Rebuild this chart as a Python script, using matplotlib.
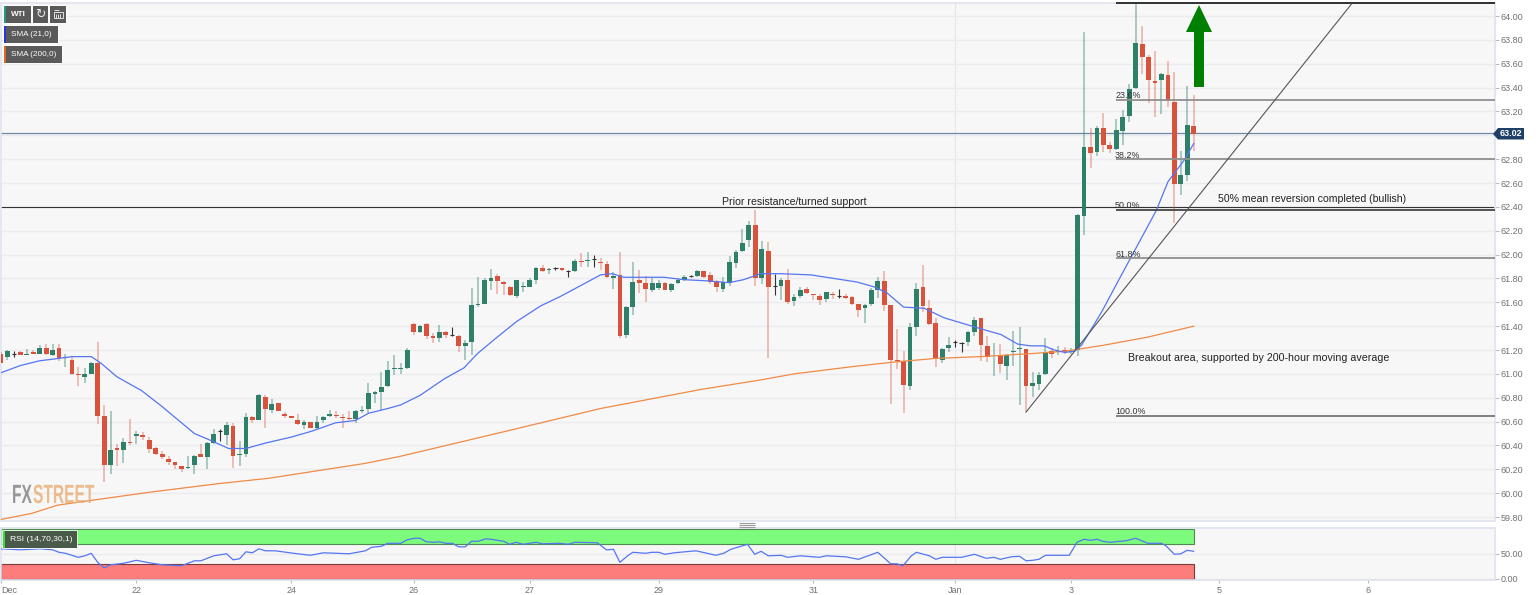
import numpy as np
import matplotlib
matplotlib.use('Agg')
import matplotlib.pyplot as plt
import matplotlib.patheffects as pe
from matplotlib.patches import Rectangle, Polygon
from matplotlib.transforms import Affine2D

plt.rcParams['font.family'] = ['Liberation Sans', 'DejaVu Sans']

opens = [61.17,61.145,61.17,61.18,61.16,61.18,61.17,61.22,61.16,61.22,
         61.13,61.12,61.00,60.97,61.00,61.09,60.65,60.24,60.38,60.36,
         60.43,60.48,60.49,60.45,60.38,60.33,60.29,60.26,60.23,60.21,
         60.24,60.33,60.30,60.42,60.52,60.49,60.56,60.32,60.33,60.64,
         60.61,60.81,60.70,60.76,60.66,60.65,60.61,60.57,60.60,60.55,
         60.61,60.65,60.655,60.64,60.63,60.62,60.69,60.71,60.83,60.85,
         60.90,61.04,61.04,61.05,61.42,61.35,61.42,61.32,61.30,61.35,
         61.33,61.32,61.23,61.27,61.58,61.59,61.78,61.82,61.77,61.73,
         61.65,61.73,61.73,61.79,61.89,61.87,61.885,61.885,61.86,61.86,
         61.95,61.945,61.96,61.94,61.92,61.80,61.83,61.33,61.56,61.79,
         61.76,61.70,61.72,61.765,61.70,61.76,61.785,61.82,61.82,61.86,
         61.83,61.77,61.715,61.765,61.93,62.03,62.12,62.245,61.80,62.03,
         61.74,61.74,61.79,61.615,61.65,61.71,61.67,61.65,61.625,61.67,
         61.655,61.655,61.645,61.59,61.55,61.585,61.70,61.78,61.575,61.12,
         61.105,60.90,61.395,61.725,61.55,61.43,61.117,61.22,61.265,61.26,
         61.268,61.355,61.465,61.23,61.155,61.16,61.07,61.18,61.205,61.205,
         60.895,60.915,60.997,61.19,61.185,61.204,61.185,61.20,62.327,62.90,
         62.857,63.06,62.916,62.885,63.036,63.165,63.394,63.765,63.656,63.455,
         63.464,63.505,63.282,62.595,62.665,63.075]
closes = [61.09,61.19,61.17,61.16,61.17,61.17,61.22,61.17,61.20,61.13,
          61.14,61.00,60.99,61.00,61.09,60.65,60.24,60.36,60.36,60.43,
          60.42,60.50,60.47,60.37,60.33,60.30,60.26,60.24,60.20,60.22,
          60.31,60.30,60.42,60.50,60.52,60.57,60.31,60.33,60.64,60.61,
          60.82,60.71,60.75,60.69,60.65,60.63,60.58,60.60,60.55,60.60,
          60.64,60.66,60.645,60.63,60.62,60.69,60.70,60.84,60.85,60.89,
          61.03,61.05,61.05,61.20,61.35,61.40,61.32,61.30,61.35,61.33,
          61.33,61.23,61.26,61.575,61.59,61.785,61.80,61.78,61.75,61.66,
          61.79,61.74,61.79,61.89,61.86,61.88,61.885,61.87,61.86,61.95,
          61.94,61.955,61.96,61.93,61.81,61.82,61.32,61.56,61.77,61.76,
          61.715,61.765,61.765,61.70,61.75,61.785,61.81,61.82,61.865,61.81,
          61.77,61.73,61.77,61.935,62.025,62.10,62.245,61.80,62.045,61.73,
          61.74,61.785,61.605,61.645,61.70,61.68,61.66,61.62,61.685,61.66,
          61.655,61.64,61.585,61.535,61.58,61.70,61.775,61.58,61.12,61.11,
          60.91,61.395,61.715,61.57,61.42,61.125,61.21,61.245,61.265,61.26,
          61.35,61.45,61.24,61.14,61.16,61.085,61.16,61.19,61.215,60.895,
          60.92,60.99,61.185,61.17,61.19,61.185,61.195,62.33,62.905,62.855,
          63.064,62.916,62.885,63.045,63.156,63.385,63.776,63.654,63.464,63.436,
          63.517,63.288,62.589,62.665,63.084,63.011]
highs = [61.18,61.20,61.19,61.19,61.21,61.20,61.245,61.25,61.25,61.25,
         61.17,61.15,61.06,61.05,61.10,61.27,60.74,60.69,60.41,60.46,
         60.62,60.52,60.51,60.47,60.39,60.35,60.31,60.26,60.23,60.31,
         60.32,60.41,60.43,60.54,60.54,60.60,60.59,60.44,60.67,60.65,
         60.83,60.82,60.79,60.76,60.68,60.65,60.66,60.61,60.60,60.65,
         60.65,60.70,60.69,60.66,60.69,60.70,60.73,60.92,60.86,61.02,
         61.11,61.16,61.09,61.22,61.43,61.41,61.43,61.34,61.41,61.36,
         61.39,61.33,61.28,61.72,61.81,61.80,61.88,61.84,61.78,61.74,
         61.79,61.77,61.80,61.90,61.91,61.89,61.90,61.89,61.87,61.96,
         62.01,62.02,62.00,61.97,61.95,61.85,62.02,61.57,61.94,61.87,
         61.82,61.80,61.79,61.77,61.76,61.80,61.83,61.83,61.87,61.865,
         61.85,61.79,61.81,61.99,62.04,62.215,62.285,62.37,62.11,62.105,
         61.84,61.80,61.88,61.67,61.73,61.73,61.67,61.67,61.69,61.69,
         61.71,61.67,61.65,61.59,61.59,61.72,61.81,61.865,61.58,61.375,
         61.195,61.43,61.765,61.91,61.62,61.465,61.218,61.31,61.28,61.27,
         61.36,61.48,61.47,61.315,61.26,61.25,61.17,61.36,61.39,61.21,
         61.02,61.02,61.30,61.218,61.235,61.225,61.215,62.34,63.863,63.06,
         63.078,63.184,62.947,63.134,63.212,63.43,64.10,63.916,63.673,63.707,
         63.52,63.623,63.533,62.87,63.413,63.335]
lows = [61.09,61.12,61.14,61.16,61.16,61.17,61.17,61.16,61.15,61.11,
        61.06,60.99,60.90,60.92,61.00,60.58,60.09,60.16,60.23,60.25,
        60.40,60.41,60.45,60.34,60.32,60.29,60.24,60.20,60.18,60.20,
        60.16,60.30,60.20,60.41,60.44,60.40,60.21,60.23,60.30,60.59,
        60.61,60.55,60.67,60.69,60.63,60.63,60.57,60.54,60.55,60.54,
        60.59,60.64,60.63,60.55,60.61,60.59,60.67,60.67,60.76,60.70,
        60.89,60.99,61.00,61.04,61.33,61.34,61.29,61.26,61.27,61.30,
        61.32,61.18,61.12,61.16,61.56,61.59,61.70,61.67,61.66,61.65,
        61.64,61.69,61.73,61.75,61.85,61.84,61.87,61.86,61.81,61.85,
        61.90,61.90,61.90,61.87,61.80,61.71,61.30,61.30,61.49,61.68,
        61.60,61.69,61.70,61.70,61.69,61.75,61.78,61.815,61.81,61.80,
        61.75,61.69,61.69,61.74,61.89,62.025,62.06,61.74,61.755,61.13,
        61.66,61.62,61.59,61.57,61.64,61.67,61.62,61.575,61.60,61.625,
        61.64,61.625,61.58,61.48,61.43,61.57,61.64,61.525,60.745,61.045,
        60.67,60.865,61.32,61.52,61.41,61.055,61.09,61.18,61.225,61.18,
        61.235,61.32,61.11,61.10,60.98,61.01,60.95,61.07,60.74,60.68,
        60.81,60.865,60.99,61.13,61.155,61.17,61.167,61.15,62.165,62.73,
        62.827,62.863,62.855,62.877,62.916,63.115,63.39,63.514,63.274,63.15,
        63.179,63.235,62.268,62.50,62.617,62.87]

sma21_x = [0,3,6,9,11,14,15.5,18,21.8,24.9,28,30,32.2,35.3,38,41,45,48.2,51.9,55,57,60,62,65,68.8,71.8,73.9,77,80,
           83.7,86.8,89.9,93,94.8,96.6,99.2,102.8,105.9,109.5,112.9,115.2,117.8,120.9,125.6,129.2,132.8,135.4,137.4,
           140,143.2,146.3,149.4,152.5,155.1,157.7,159.7,161.8,163.4,165,166.5,167.6,170.7,173.7,176.8,179.2,181,183.5,185]
sma21_y = [61.01,61.07,61.11,61.13,61.145,61.145,61.09,60.975,60.86,60.73,60.59,60.50,60.45,60.375,60.375,60.42,60.47,
           60.52,60.59,60.61,60.67,60.71,60.74,60.82,60.96,61.05,61.17,61.31,61.44,61.57,61.65,61.74,61.83,61.84,61.81,
           61.81,61.81,61.79,61.78,61.765,61.79,61.84,61.84,61.83,61.80,61.77,61.73,61.68,61.56,61.55,61.47,61.42,61.37,
           61.33,61.25,61.235,61.235,61.20,61.18,61.19,61.24,61.517,61.82,62.13,62.37,62.61,62.79,62.93]
sma200_x = [0,4.7,8.8,14,23.3,33.7,41.5,49.3,56.5,62,77.6,93,108.6,117.9,123,131.9,138.6,145,152,159.7,165,171,178,185]
sma200_y = [59.78,59.83,59.90,59.94,60.01,60.08,60.125,60.19,60.25,60.31,60.51,60.71,60.87,60.95,61.00,61.06,61.10,61.13,
            61.145,61.17,61.19,61.24,61.31,61.40]

rsi_x = [0,3,6,8,9,10,12,13,14,15,16,17,19,21,23,25,28,30,31,33,35,36,37,38,39,40,41,42.5,46,48,50,54,56.5,57.5,59,60,62,
         63,64.1,65,66,67.2,68,69,70,71,72,73,74,75.2,76,78,78.9,79.9,81,83,84,86.6,88,89,92.5,93.9,95,96,97.2,98,100,
         100.9,102,103,104.4,107.8,110.9,112.1,113.2,115.8,116.9,117.9,119,121,122,124,126.9,128,131,133,136,138,139,
         139.9,141.2,142,144,145,146,149,151,152.8,154,155,156.7,158,159,160,161,162,165.7,166.9,168,169,170,170.9,172,
         174.5,176,177.9,180,180.7,182,183,184,185]
rsi_y = [60,58,60,58,53,51,43,46,51,33,22,28,31,37,32,28,26,36,36,46,50,38,40,54,52,60,56,56,50,47,52,50,56,63,65,71,71,
         78,81,81,74,73,74,71,71,64,64,75,75,80,79,75,69,73,69,73,70,71,69,73,72,58,59,33,46,53,51,53,53,49,52,56,47,51,
         59,69,49,55,46,47,43,46,43,46,44,39,53,30,30,26,46,53,46,39,43,43,49,41,43,39,44,45,36,37,39,47,47,73,79,77,79,
         75,73,76,81,71,71,66,49,50,57,55]

price_ticks = np.arange(59.8, 64.01, 0.2)
date_pos = [0, 21, 45, 64, 82, 102, 126, 148, 166, 189, 212]
date_labels = ['Dec', '22', '24', '26', '27', '29', '31', 'Jan', '3', '5', '6']
fib_levels = [64.105, 63.30, 62.80, 62.375, 61.97, 60.65]
fib_labels = ['', '23.6%', '38.2%', '50.0%', '61.8%', '100.0%']
last_price = 63.02

W, H = 1536, 595
BG = '#f7f7f7'
GRID = '#ececf0'
BORDER = '#dfe3ee'
UP = '#2f8069'
DOWN = '#d9533c'
TICKC = '#707070'


def px_axes(left, top, right, bottom):
    return [left / W, 1 - bottom / H, (right - left) / W, (bottom - top) / H]


class Squeeze(pe.AbstractPathEffect):
    """ narrows a text around its left edge, the logo has no matching font """
    def __init__(self, x0, sx):
        super().__init__()
        self.x0 = x0
        self.sx = sx

    def draw_path(self, renderer, gc, tpath, affine, rgbFace=None):
        t = affine + Affine2D().translate(-self.x0, 0).scale(self.sx, 1).translate(self.x0, 0)
        renderer.draw_path(gc, tpath, t, rgbFace)


fig = plt.figure(figsize=(W / 100, H / 100), dpi=100, facecolor='white')
ax = fig.add_axes(px_axes(1, 3, 1495, 521), facecolor=BG)
ax2 = fig.add_axes(px_axes(1, 528, 1495, 579.5), facecolor=BG)

x_max = 1494 / 6.447
for a in (ax, ax2):
    a.set_xlim(0, x_max)
    a.axvline(148, color='#e6e6ea', lw=0.8, zorder=1)
    for s in a.spines.values():
        s.set_color(BORDER)
        s.set_linewidth(1.2)

ax.set_ylim(59.767, 64.109)
ax.yaxis.tick_right()
ax.set_yticks(price_ticks)
# 63.00 sits under the price tag
ax.set_yticklabels(['' if abs(t - 63) < 0.01 else '%.2f' % t for t in price_ticks])
ax.tick_params(axis='y', length=2.9, color='#b8bcc8', labelsize=6.5, labelcolor=TICKC, pad=1)
ax.set_xticks([])
ax.grid(axis='y', color=GRID, lw=1.0, zorder=0)

idx = np.arange(len(opens))
opens = np.array(opens)
closes = np.array(closes)
highs = np.array(highs)
lows = np.array(lows)
up = closes > opens
down = closes < opens
doji = closes == opens

ax.vlines(idx[up], lows[up], highs[up], color=UP, lw=1.1, alpha=0.5, zorder=3)
ax.vlines(idx[down], lows[down], highs[down], color=DOWN, lw=1.1, alpha=0.45, zorder=3)
ax.vlines(idx[doji], lows[doji], highs[doji], color='#333333', lw=0.8, zorder=3)
ax.bar(idx[up], (closes - opens)[up], 0.74, opens[up], color=UP, zorder=4)
ax.bar(idx[down], (opens - closes)[down], 0.74, closes[down], color=DOWN, zorder=4)
ax.hlines(opens[doji], idx[doji] - 0.33, idx[doji] + 0.33, color='#333333', lw=0.8, zorder=4)

ax.plot(sma200_x, sma200_y, color='#f08a45', lw=0.9, zorder=5)
ax.plot(sma21_x, sma21_y, color='#5575f2', lw=0.9, zorder=5)

# price line and the drawn levels
ax.axhline(last_price, color='#6f87a6', lw=0.9, zorder=2)
ax.axhline(62.395, color='#333333', lw=0.8, zorder=2)
ax.hlines(fib_levels, 173, x_max, color=['#222222', '#8f8f8f', '#8f8f8f', '#444444', '#8f8f8f', '#777777'], lw=1.3,
          zorder=6, clip_on=False)
for lev, lab in zip(fib_levels, fib_labels):
    ax.text(172.8, lev + 0.012, lab, fontsize=6.4, color='#333333', va='baseline', ha='left', zorder=6)
ax.plot([159, 209.6], [60.68, 64.109], color='#555555', lw=0.8, zorder=6)

# rsi pane
ax2.set_ylim(-1.4, 101.6)
ax2.yaxis.tick_right()
ax2.set_yticks([0, 50])
ax2.set_yticklabels(['0.00', '50.00'])
ax2.tick_params(axis='y', length=2.9, color='#b8bcc8', labelsize=6.5, labelcolor=TICKC, pad=1)
ax2.set_xticks(date_pos)
ax2.set_xticklabels(date_labels)
ax2.get_xticklabels()[0].set_ha('left')
ax2.tick_params(axis='x', length=2, color='#b8bcc8', labelsize=6.5, labelcolor=TICKC, pad=3)
ax2.grid(axis='y', color=GRID, lw=1.0, zorder=0)
ax2.add_patch(Rectangle((0, 70), 185, 30, facecolor='#7dfb7d', edgecolor='#4f8a4f', lw=0.8, zorder=2))
ax2.add_patch(Rectangle((0, 0), 185, 30, facecolor='#fd7c7c', edgecolor='#7a3b3b', lw=0.8, zorder=2))
ax2.plot(rsi_x, rsi_y, color='#5575f2', lw=0.9, zorder=5)

# overlay in picture pixels for the widgets and notes
ov = fig.add_axes([0, 0, 1, 1], zorder=10)
ov.set_xlim(0, W)
ov.set_ylim(H, 0)
ov.axis('off')


def box(x0, y0, x1, y1, strip, label=None, fs=5.9, fc='#5a5a5a', weight='normal'):
    ov.add_patch(Rectangle((x0 - 1, y0 - 1), x1 - x0 + 2, y1 - y0 + 2, fc='white', ec='none', alpha=0.7))
    ov.add_patch(Rectangle((x0, y0), x1 - x0, y1 - y0, fc=fc, ec='none'))
    if strip:
        ov.add_patch(Rectangle((x0, y0), 2, y1 - y0, fc=strip, ec='none'))
    if label:
        ov.text(x0 + 6.7, (y0 + y1) / 2 - 0.3, label, color='white', fontsize=fs, ha='left', va='center', fontweight=weight)


box(4, 6, 31, 23, '#1e9c7e', 'WTI', weight='bold')
box(33, 6, 48, 23, None)
box(50, 6, 66, 23, None)
ov.text(40.5, 14.5, '\u21bb', color='#e8e8e8', fontsize=9, ha='center', va='center', family='DejaVu Sans')
ov.add_patch(Rectangle((54, 12), 9, 6, fc='none', ec='#e0e0e0', lw=0.7))
ov.vlines([56, 58, 60], 14, 18, color='#e0e0e0', lw=0.7)
ov.hlines(10, 54, 59, color='#e0e0e0', lw=0.7)
box(4, 26, 58, 43, '#2438e0', 'SMA (21,0)')
box(4, 46, 62, 63, '#e8641e', 'SMA (200,0)')
box(3, 531, 77, 548, '#33e033', 'RSI (14,70,30,1)', fs=6.1, fc='#4a5a4a')

fx = ov.text(12, 496, 'FX', color='#8c8c8c', fontsize=19, fontweight='bold', va='center', ha='left', alpha=0.9)
st = ov.text(33, 496, 'STREET', color='#e8b27c', fontsize=19, fontweight='bold', va='center', ha='left', alpha=0.85)
fx.set_path_effects([Squeeze(12, 0.59)])
st.set_path_effects([Squeeze(33, 0.59)])

ov.text(722, 202, 'Prior resistance/turned support', color='#222222', fontsize=7.6, va='center', ha='left')
ov.text(1218, 199, '50% mean reversion completed (bullish)', color='#222222', fontsize=7.6, va='center', ha='left')
ov.text(1128, 358, 'Breakout area, supported by 200-hour moving average', color='#222222', fontsize=7.65, va='center', ha='left')

ov.add_patch(Polygon([(1199, 5), (1212, 32), (1204, 32), (1204, 87), (1194, 87), (1194, 32), (1186, 32)], closed=True, fc='#008000', ec='none'))
ov.add_patch(Polygon([(1493, 134), (1498, 128), (1524, 128), (1524, 139.5), (1498, 139.5)], closed=True, fc='#1f3f66', ec='none'))
ov.text(1511, 134, '%.2f' % last_price, color='white', fontsize=6.5, fontweight='bold', va='center', ha='center')

# drag handle between the panes
ov.hlines([522.5, 524.5, 526.5], 739, 755, color='#9a9a9a', lw=0.8)

fig.savefig('out.png', dpi=100, facecolor='white')
